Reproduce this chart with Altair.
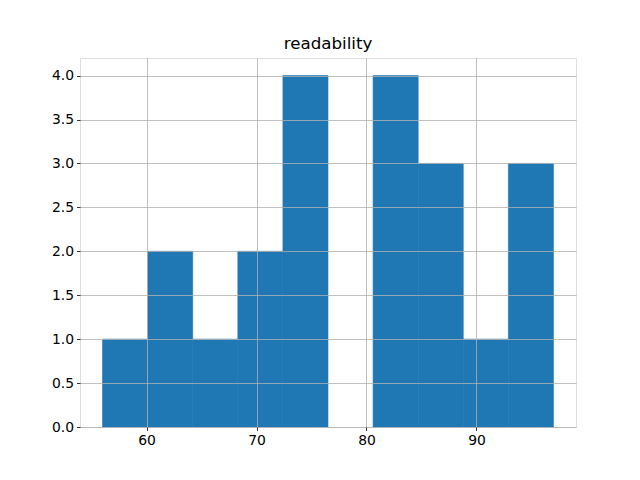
import altair as alt
import pandas as pd

bin_start = [56.0, 60.1, 64.2, 68.3, 72.4, 76.5, 80.6, 84.7, 88.8, 92.9]
bin_end = [60.1, 64.2, 68.3, 72.4, 76.5, 80.6, 84.7, 88.8, 92.9, 97.0]
counts = [1, 2, 1, 2, 4, 0, 4, 3, 1, 3]
x_ticks = [60, 70, 80, 90]
y_ticks = [0.0, 0.5, 1.0, 1.5, 2.0, 2.5, 3.0, 3.5, 4.0]

df = pd.DataFrame({"start": bin_start, "end": bin_end, "count": counts})

font = "DejaVu Sans"
axis_common = dict(
    grid=True, gridColor="#b0b0b0", gridWidth=0.8,
    domain=False, tickColor="black", tickSize=3.5, tickWidth=0.8,
    labelFont=font, labelFontSize=13.9, labelColor="black",
    title=None, zindex=1, labelPadding=3,
)

chart = alt.Chart(df).mark_bar(color="#1f77b4", stroke="#1f77b4").encode(
    x=alt.X("start:Q", scale=alt.Scale(domain=[53.95, 99.05], nice=False, zero=False),
            axis=alt.Axis(values=x_ticks, format="d", **axis_common)),
    x2="end:Q",
    y=alt.Y("count:Q", scale=alt.Scale(domain=[0, 4.2], nice=False, padding=0),
            axis=alt.Axis(values=y_ticks, format=".1f", **axis_common)),
    y2=alt.datum(0),
    strokeWidth=alt.condition(alt.datum["count"] > 0, alt.value(0.6), alt.value(0)),
).properties(
    width=496, height=369,
    title=alt.TitleParams("readability", font=font, fontSize=16.7, fontWeight="normal",
                          color="black", offset=5),
    autosize=alt.AutoSizeParams(type="none"),
    padding={"left": 72, "top": 50, "right": 56, "bottom": 45},
).configure_view(stroke="black", strokeWidth=0.8).configure(background="white")

chart.save("out.html", embed_options={"renderer": "svg", "actions": False})
